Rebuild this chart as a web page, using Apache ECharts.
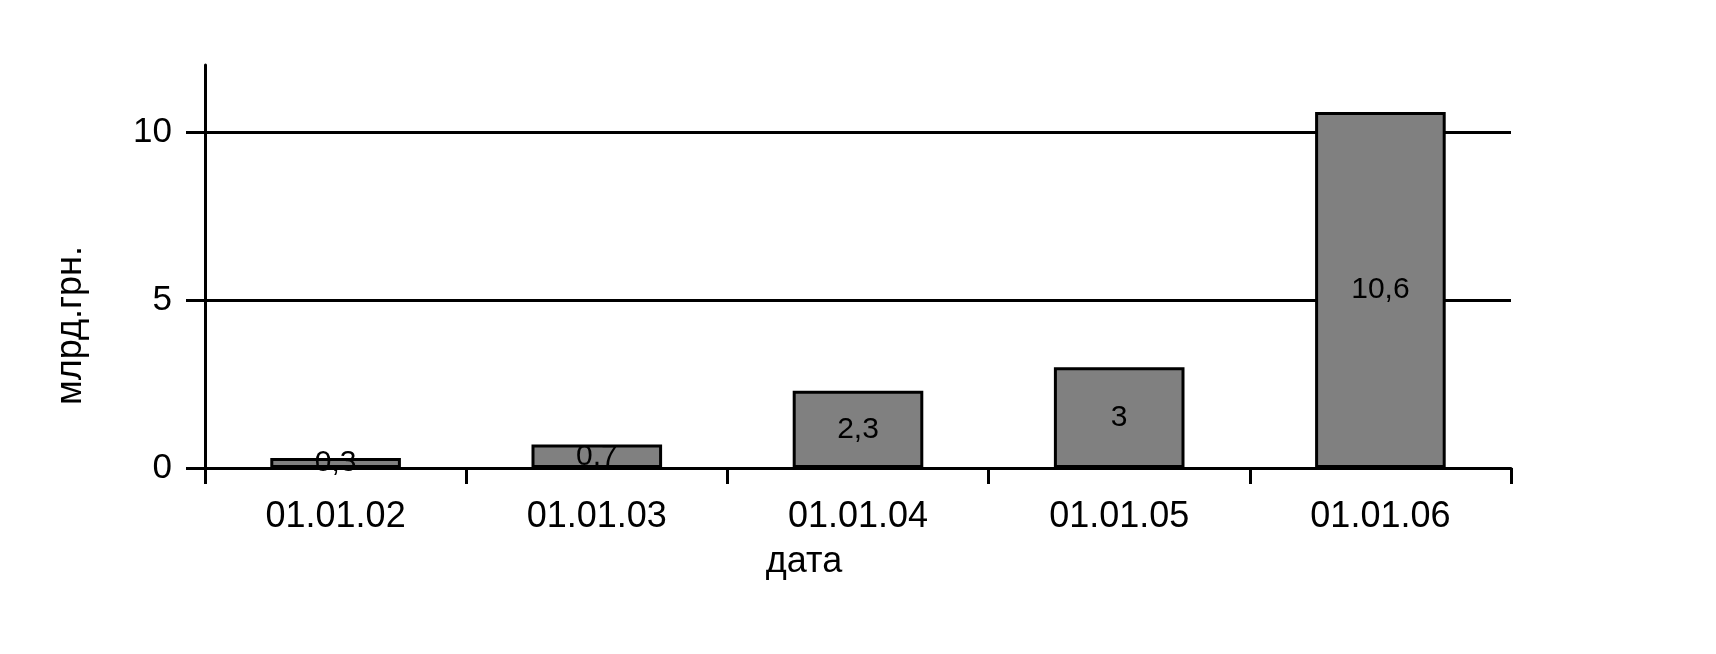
<!DOCTYPE html>
<html>
<head>
<meta charset="utf-8">
<script src="https://cdn.jsdelivr.net/npm/echarts@6/dist/echarts.min.js"></script>
<style>html,body{margin:0;padding:0;background:#fff}#c{width:1716px;height:654px}</style>
</head>
<body>
<div id="c"></div>
<script>
const categories = ['01.01.02', '01.01.03', '01.01.04', '01.01.05', '01.01.06'];
const values = [0.3, 0.7, 2.3, 3, 10.6];
const yTicks = [0, 5, 10];
const yName = 'млрд.грн.';
const xName = 'дата';

const FONT = '"Liberation Sans", Arial, sans-serif';
const chart = echarts.init(document.getElementById('c'), null, {renderer: 'canvas'});
chart.setOption({
  animation: false,
  backgroundColor: '#fff',
  grid: {left: 205, right: 205, top: 65, bottom: 186},
  xAxis: {
    type: 'category',
    data: categories,
    boundaryGap: true,
    name: xName,
    nameLocation: 'middle',
    nameGap: 76,
    nameTextStyle: {fontFamily: FONT, fontSize: 36, color: '#000', padding: [0, 108, 0, 0]},
    axisLine: {show: true, lineStyle: {color: '#000', width: 3}},
    axisTick: {show: true, length: 16, customValues: categories.map((c, i) => i), lineStyle: {color: '#000', width: 3}},
    axisLabel: {fontFamily: FONT, fontSize: 36, color: '#000', margin: 31}
  },
  yAxis: {
    type: 'value',
    min: 0,
    max: 12,
    interval: 5,
    name: yName,
    nameLocation: 'middle',
    nameGap: 116,
    nameTextStyle: {fontFamily: FONT, fontSize: 36, color: '#000', padding: [0, 118, 0, 0]},
    axisLine: {show: true, lineStyle: {color: '#000', width: 3}},
    axisTick: {show: true, length: 19, customValues: yTicks, lineStyle: {color: '#000', width: 3}},
    axisLabel: {fontFamily: FONT, fontSize: 35, color: '#000', margin: 33, customValues: yTicks},
    splitLine: {show: true, lineStyle: {color: '#000', width: 3}}
  },
  series: [{
    type: 'bar',
    data: values,
    barWidth: '50%',
    itemStyle: {color: '#808080', borderColor: '#000', borderWidth: 3},
    label: {
      show: true,
      position: 'inside',
      fontFamily: FONT,
      fontSize: 30,
      color: '#000',
      formatter: p => String(p.value).replace('.', ',')
    }
  }]
});
</script>
</body>
</html>
